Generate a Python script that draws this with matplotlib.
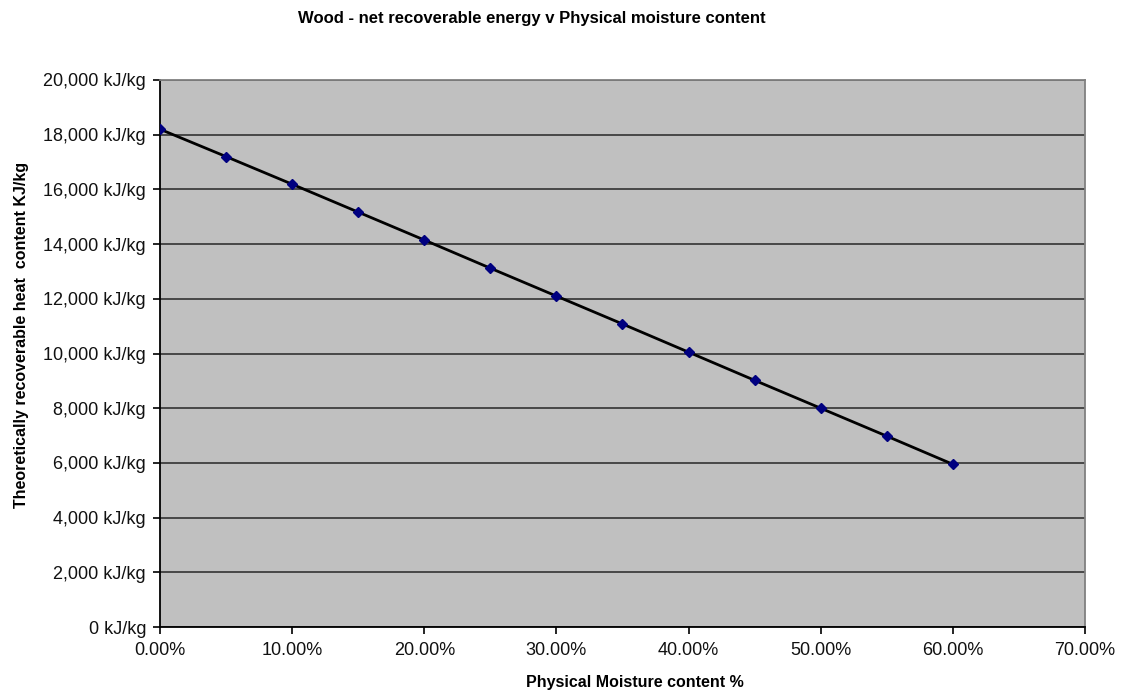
import matplotlib
matplotlib.use("Agg")
from matplotlib import pyplot as plt
from matplotlib.ticker import FuncFormatter, MultipleLocator

plt.rcParams['font.family'] = ['Liberation Sans', 'DejaVu Sans']

# moisture content (%) and net recoverable heat (kJ/kg)
moisture = [0, 5, 10, 15, 20, 25, 30, 35, 40, 45, 50, 55, 60]
energy = [18200, 17200, 16190, 15170, 14150, 13120, 12100, 11080, 10050, 9020, 8000, 6980, 5950]

title = "Wood - net recoverable energy v Physical moisture content"
xlabel = "Physical Moisture content %"
ylabel = "Theoretically recoverable heat  content KJ/kg"

fig = plt.figure(figsize=(11.25, 6.98), dpi=100)
ax = fig.add_axes([0.1422, 0.1017, 0.8222, 0.7837])
ax.set_facecolor("#c0c0c0")

ax.plot(moisture, energy, color="black", lw=2, marker="D", ms=5,
        mfc="#000080", mec="#000080", zorder=3)

ax.set_xlim(0, 70)
ax.set_ylim(0, 20000)
ax.xaxis.set_major_locator(MultipleLocator(10))
ax.yaxis.set_major_locator(MultipleLocator(2000))
ax.xaxis.set_major_formatter(FuncFormatter(lambda v, p: "%.2f%%" % v))
ax.yaxis.set_major_formatter(FuncFormatter(lambda v, p: "{:,.0f} kJ/kg".format(v)))

ax.grid(axis="y", color="#333333", lw=1.2)
ax.set_axisbelow(True)
ax.tick_params(direction="out", length=5, width=1.2, labelsize=13, color="black",
               labelcolor="#111111")
ax.tick_params(axis="y", pad=5)
ax.tick_params(axis="x", pad=6)

for s in ("left", "bottom"):
    ax.spines[s].set_color("black")
    ax.spines[s].set_linewidth(1.3)
for s in ("top", "right"):
    ax.spines[s].set_color("#808080")
    ax.spines[s].set_linewidth(1.3)

fig.text(0.473, 0.9735, title, ha="center", va="center", fontsize=12, fontweight="bold")
fig.text(0.564, 0.0215, xlabel, ha="center", va="center", fontsize=11.5, fontweight="bold")
fig.text(0.0187, 0.52, ylabel, ha="center", va="center", rotation=90,
         fontsize=11.5, fontweight="bold")

fig.savefig("out.png", dpi=100)
